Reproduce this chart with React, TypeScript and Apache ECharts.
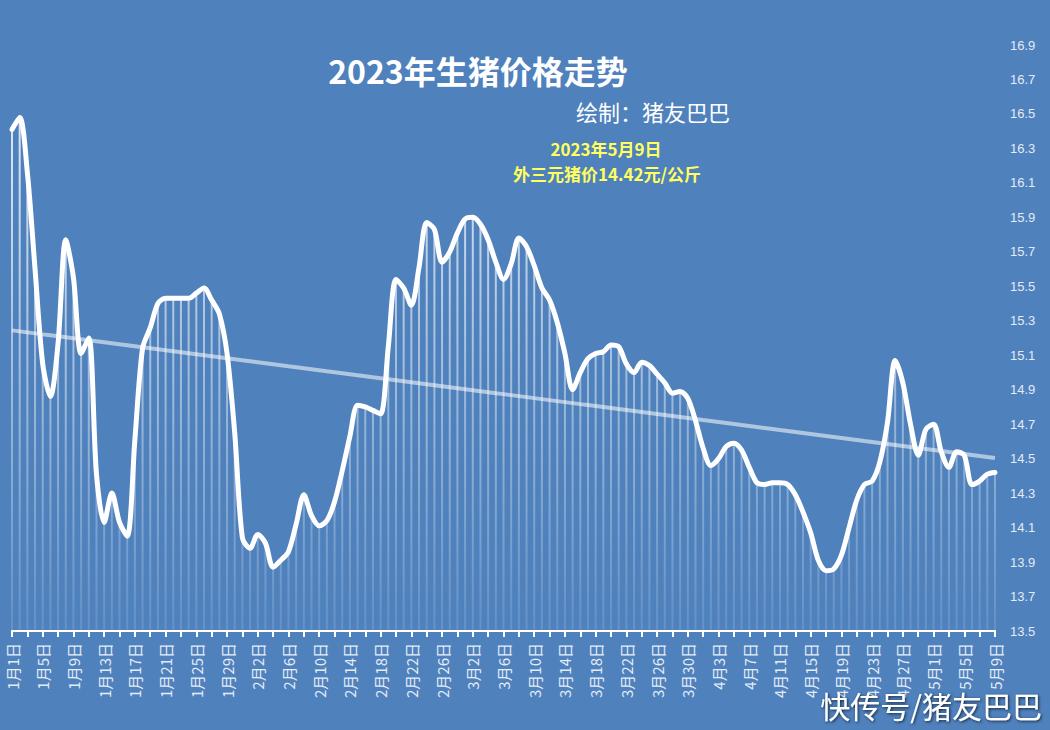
import React, { useEffect, useRef } from "react";
import * as echarts from "echarts";

// Month lengths for Jan 1 .. May 9, 2023 (category labels)
const monthLengths = [31, 28, 31, 30, 9];
const categories: string[] = [];
monthLengths.forEach((n, m) => {
  for (let d = 1; d <= n; d++) categories.push(`${m + 1}月${d}日`);
});

// Daily price (元/公斤)
const prices = [
  16.41, 16.48, 16.16, 15.6, 15.05, 14.86, 15.17, 15.77, 15.55, 15.11,
  15.2, 14.41, 14.13, 14.3, 14.13, 14.05, 14.61, 15.14, 15.26, 15.4,
  15.43, 15.43, 15.43, 15.43, 15.46, 15.49, 15.42, 15.34, 15.11, 14.65,
  14.04, 13.98, 14.06, 14.01, 13.87, 13.91, 13.96, 14.12, 14.29, 14.17,
  14.11, 14.14, 14.25, 14.43, 14.63, 14.81, 14.8, 14.78, 14.76, 15.15,
  15.54, 15.49, 15.39, 15.61, 15.87, 15.83, 15.64, 15.7, 15.81, 15.89,
  15.9, 15.86, 15.77, 15.64, 15.54, 15.63, 15.78, 15.73, 15.62, 15.49,
  15.42, 15.29, 15.11, 14.9, 15.0, 15.08, 15.11, 15.12, 15.16, 15.15,
  15.05, 15.0, 15.06, 15.04, 14.99, 14.94, 14.88, 14.89, 14.85, 14.72,
  14.56, 14.46, 14.5, 14.57, 14.59, 14.55, 14.45, 14.36, 14.35, 14.36,
  14.36, 14.35, 14.29, 14.19, 14.07, 13.91, 13.85, 13.86, 13.94, 14.1,
  14.26, 14.35, 14.37, 14.48, 14.71, 15.07, 14.94, 14.7, 14.52, 14.67,
  14.7, 14.54, 14.45, 14.54, 14.52, 14.35, 14.37, 14.41, 14.42,
];

const yTicks = [
  13.5, 13.7, 13.9, 14.1, 14.3, 14.5, 14.7, 14.9, 15.1, 15.3, 15.5, 15.7,
  15.9, 16.1, 16.3, 16.5, 16.7, 16.9,
];

const titleText = "2023年生猪价格走势";
const authorText = "绘制：猪友巴巴";
const noteLine1 = "2023年5月9日";
const noteLine2 = "外三元猪价14.42元/公斤";
const watermark = "快传号/猪友巴巴";

// Linear trend line (least squares over the data)
function linearTrend(vals: number[]): number[] {
  const n = vals.length;
  let sx = 0, sy = 0, sxx = 0, sxy = 0;
  vals.forEach((v, i) => {
    sx += i; sy += v; sxx += i * i; sxy += i * v;
  });
  const b = (n * sxy - sx * sy) / (n * sxx - sx * sx);
  const a = (sy - b * sx) / n;
  return vals.map((_, i) => +(a + b * i).toFixed(4));
}

const CJK = '"Noto Sans CJK SC", "Noto Sans", sans-serif';

export default function App() {
  const ref = useRef<HTMLDivElement>(null);
  useEffect(() => {
    if (!ref.current) return;
    const chart = echarts.init(ref.current, undefined, { renderer: "svg" });
    const trend = linearTrend(prices);
    chart.setOption({
      animation: false,
      backgroundColor: "#4f81bd",
      grid: { left: 12, right: 55, top: 45, bottom: 99 },
      xAxis: {
        type: "category",
        data: categories,
        boundaryGap: false,
        axisLine: { lineStyle: { color: "#ffffff", width: 2 } },
        axisTick: { interval: 1, length: 6, lineStyle: { color: "#ffffff", width: 2 } },
        axisLabel: {
          interval: 3,
          rotate: 90,
          color: "#e3ebf5",
          fontSize: 15,
          margin: 12,
          fontFamily: CJK,
        },
        splitLine: { show: false },
      },
      yAxis: {
        type: "value",
        position: "right",
        min: 13.5,
        max: 16.9,
        axisLine: { show: false },
        axisTick: { show: false },
        splitLine: { show: false },
        axisLabel: {
          customValues: yTicks,
          formatter: (v: number) => v.toFixed(1),
          color: "#e3ebf5",
          fontSize: 13,
          margin: 15,
          fontFamily: "Liberation Sans, sans-serif",
        },
      },
      series: [
        {
          type: "bar",
          data: prices,
          barWidth: 2,
          z: 1,
          itemStyle: {
            color: {
              type: "linear",
              x: 0,
              y: 45,
              x2: 0,
              y2: 631,
              global: true,
              colorStops: [
                { offset: 0, color: "rgba(255,255,255,0.92)" },
                { offset: 1, color: "rgba(255,255,255,0.12)" },
              ],
            },
          },
        },
        {
          type: "line",
          data: trend,
          symbol: "none",
          z: 2,
          lineStyle: { color: "rgba(255,255,255,0.55)", width: 4 },
        },
        {
          type: "line",
          data: prices,
          symbol: "none",
          smooth: 0.3,
          z: 3,
          lineStyle: { color: "#ffffff", width: 5, cap: "round", join: "round" },
        },
      ],
      graphic: [
        {
          type: "text",
          x: 478,
          y: 70,
          style: {
            text: titleText,
            fill: "#ffffff",
            fontSize: 32,
            fontWeight: "bold",
            fontFamily: CJK,
            textAlign: "center",
            textVerticalAlign: "middle",
          },
        },
        {
          type: "text",
          x: 576,
          y: 111,
          style: {
            text: authorText,
            fill: "#ffffff",
            fontSize: 22,
            fontFamily: CJK,
            textAlign: "left",
            textVerticalAlign: "middle",
          },
        },
        {
          type: "text",
          x: 606,
          y: 148,
          style: {
            text: noteLine1,
            fill: "#ffff5e",
            fontSize: 17,
            fontWeight: "bold",
            fontFamily: CJK,
            textAlign: "center",
            textVerticalAlign: "middle",
          },
        },
        {
          type: "text",
          x: 607,
          y: 173,
          style: {
            text: noteLine2,
            fill: "#ffff5e",
            fontSize: 17,
            fontWeight: "bold",
            fontFamily: CJK,
            textAlign: "center",
            textVerticalAlign: "middle",
          },
        },
        {
          type: "text",
          x: 1042,
          y: 705,
          z: 100,
          style: {
            text: watermark,
            fill: "#ffffff",
            fontSize: 30,
            fontFamily: CJK,
            textAlign: "right",
            textVerticalAlign: "middle",
            textShadowColor: "rgba(0,0,0,0.75)",
            textShadowBlur: 3,
            textShadowOffsetX: 1,
            textShadowOffsetY: 1,
          },
        },
      ],
    });
    return () => chart.dispose();
  }, []);
  return (
    <div
      ref={ref}
      style={{ position: "fixed", left: 0, top: 0, width: 1050, height: 730 }}
    />
  );
}
